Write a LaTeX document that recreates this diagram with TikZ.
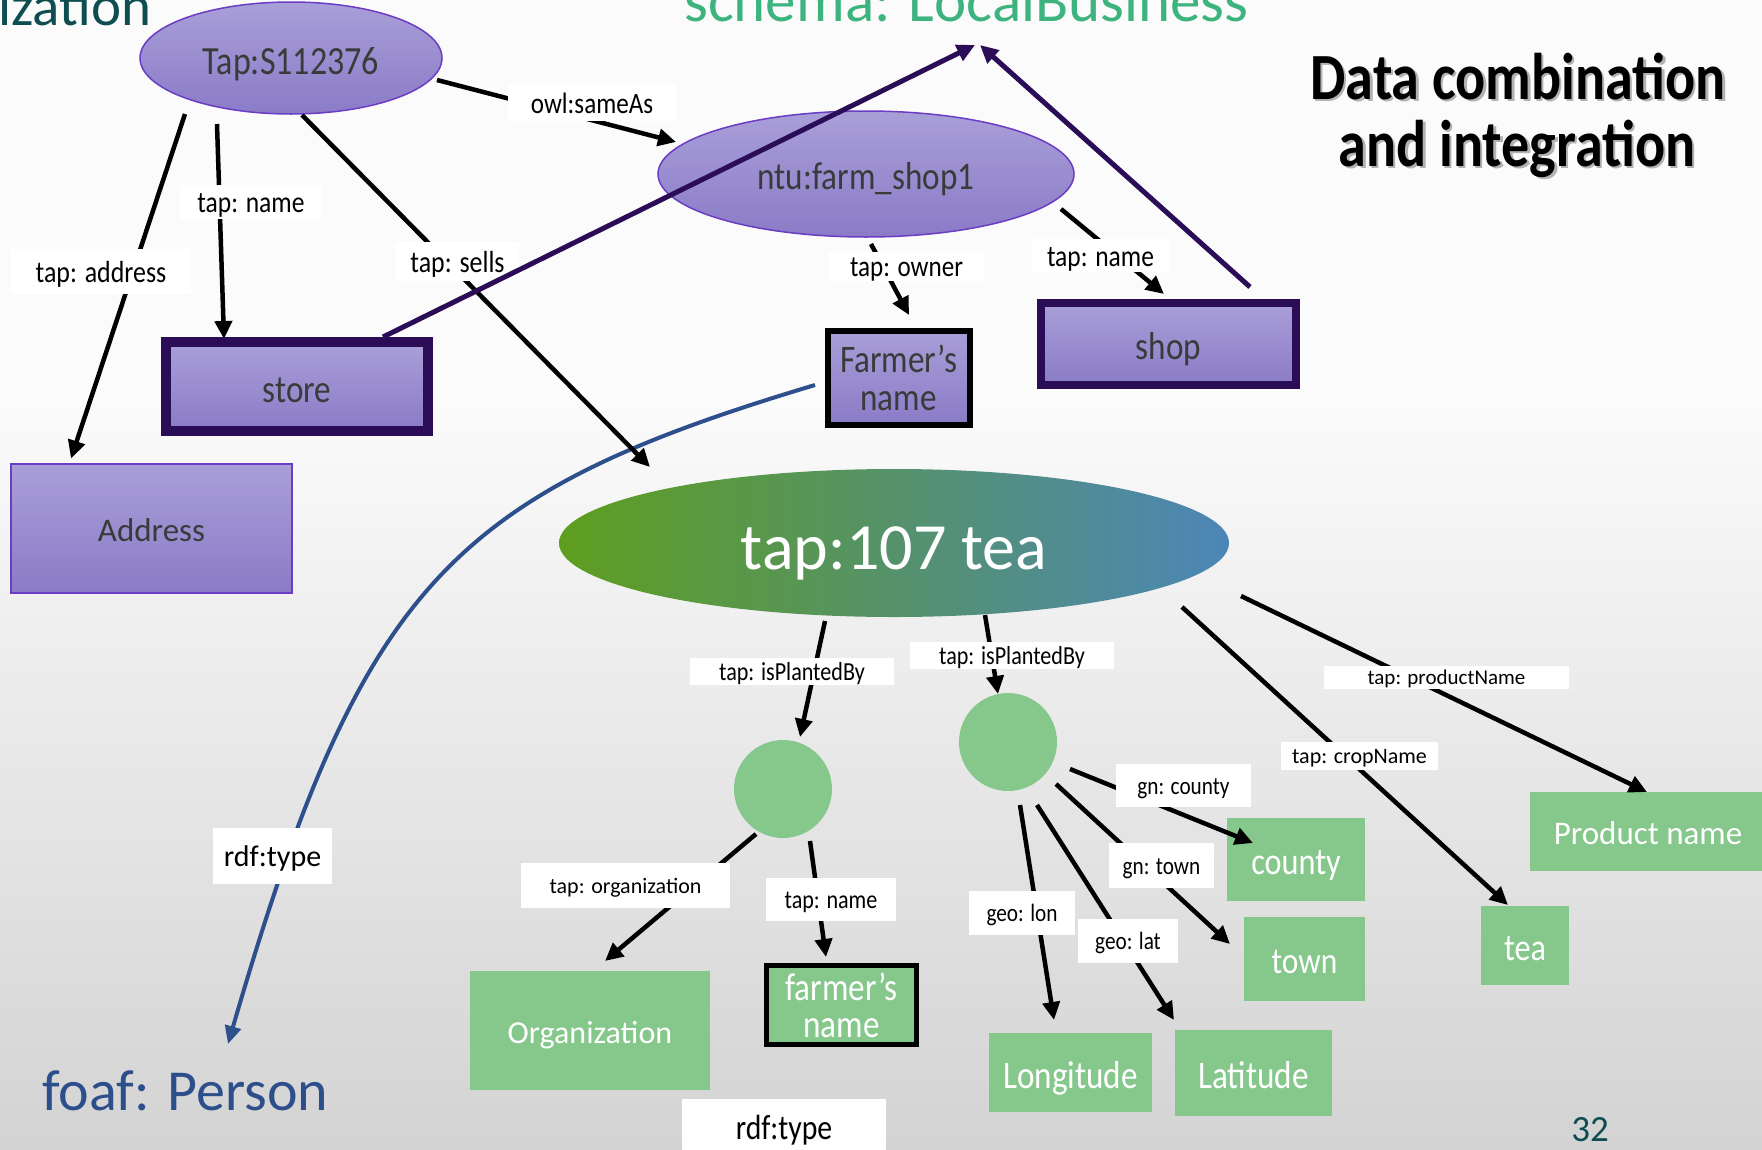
\documentclass[tikz,border=0pt]{standalone}
\usepackage{fontspec}
\setmainfont{Carlito}
\newfontfamily\condfont[FakeStretch=0.85]{Carlito}
\usetikzlibrary{shapes.geometric,arrows.meta,calc}
\newcommand\setfs[1]{\fontsize{#1}{#1}\selectfont}

\definecolor{bgTop}{HTML}{FBFBFB}
\definecolor{bgBot}{HTML}{D3D3D3}
\definecolor{purpleTop}{HTML}{A99FD8}
\definecolor{purpleBot}{HTML}{8A7BC7}
\definecolor{ovalEdge}{HTML}{6B3CC4}
\definecolor{frameDark}{HTML}{2A0C57}
\definecolor{nodeText}{HTML}{3A3A3A}
\definecolor{leaf}{HTML}{86C88C}
\definecolor{teaLeft}{HTML}{5E9E1E}
\definecolor{teaRight}{HTML}{4C86B7}
\definecolor{curveBlue}{HTML}{2D4F8B}
\definecolor{personBlue}{HTML}{2C4F8C}
\definecolor{schemaGreen}{HTML}{3DB37E}
\definecolor{pageTeal}{HTML}{0F4E50}

\tikzset{
  % single-line text: condensed (cfs) or regular (rfs) at a given size,
  % with a fixed text box so the glyphs sit centred like the slide's font
  cfs/.style={font=\condfont\setfs{#1}, text height={0.8*#1pt}, text depth=0pt},
  rfs/.style={font=\setfs{#1}, text height={0.8*#1pt}, text depth=0pt},
  % same for the small property labels
  lcfs/.style={font=\condfont\setfs{#1}, text height={0.7*#1pt}, text depth=0pt},
  lrfs/.style={font=\setfs{#1}, text height={0.7*#1pt}, text depth=0pt},
  purplenode/.style={top color=purpleTop, bottom color=purpleBot, text=nodeText,
    inner sep=0pt, cfs=39},
  oval/.style={purplenode, ellipse, draw=ovalEdge, line width=1.5pt},
  thickbox/.style={purplenode, rectangle, draw=frameDark},
  greenbox/.style={rectangle, fill=leaf, text=white, inner sep=0pt, cfs=39},
  blob/.style={circle, fill=leaf, minimum size=98pt, inner sep=0pt},
  lbl/.style={fill=white, inner sep=0pt, text=black},
  arr/.style={line width=4.5pt, -{Triangle[length=18pt,width=17pt]}},
  link/.style={draw=frameDark, line width=5pt, -{Triangle[length=18pt,width=17pt]}},
  curvy/.style={draw=curveBlue, line width=4pt, -{Triangle[length=18pt,width=16pt]}},
}

\begin{document}
\begin{tikzpicture}[x=1pt, y=-1pt]
\useasboundingbox (0,0) rectangle (1762,1149);
\clip (0,0) rectangle (1762,1149);

% background
\fill[bgTop] (0,0) rectangle (1762,400);
\shade[top color=bgTop, bottom color=bgBot] (0,400) rectangle (1762,1149);

% headings
\node[anchor=base west, inner sep=0pt, text=pageTeal, font=\setfs{57}] (heading) at (-2,25) {ization};
\node[anchor=base west, inner sep=0pt, text=schemaGreen, font=\setfs{61}] (schema) at (684,21) {schema: LocalBusiness};
\coordinate (lbus) at (977,45);

\node[anchor=base, inner sep=0pt, text=gray!60, font=\condfont\bfseries\setfs{66}] (titleAs) at (1520.5,101.5) {Data combination};
\node[anchor=base, inner sep=0pt, text=gray!60, font=\condfont\bfseries\setfs{66}] (titleBs) at (1519.5,168.5) {and integration};
\node[anchor=base, inner sep=0pt, text=black, font=\condfont\bfseries\setfs{66}] (titleA) at (1518,99) {Data combination};
\node[anchor=base, inner sep=0pt, text=black, font=\condfont\bfseries\setfs{66}] (titleB) at (1517,166) {and integration};

% purple resources
\node[oval, minimum width=302pt, minimum height=112pt, cfs=40] (tap) at (291,58) {Tap:S112376};
\node[oval, minimum width=416pt, minimum height=126pt] (ntu) at (866,174) {ntu:farm\_shop1};
\node[thickbox, line width=10pt, minimum width=262pt, minimum height=89pt] (store) at (297,386.5) {store};
\node[purplenode, draw=ovalEdge, line width=1.5pt, minimum width=281pt, minimum height=129pt, rfs=33] (addr) at (151.5,528.5) {Address};
\node[thickbox, draw=black, line width=6pt, minimum width=142pt, minimum height=94pt, align=center, font=\condfont\fontsize{39}{38}\selectfont, text height=, text depth=] (farmer) at (898.5,377.7) {Farmer’s\\name};
\node[thickbox, line width=8pt, minimum width=255pt, minimum height=82pt] (shop) at (1168.5,344) {shop};

% central resource
\node[ellipse, left color=teaLeft, right color=teaRight, minimum width=670pt, minimum height=148pt, inner sep=0pt, text=white, rfs=66] (tea) at (894,543) {tap:107 tea};

% blank nodes
\node[blob] (c1) at (783,789) {};
\node[blob] (c2) at (1008,742) {};

% green literals
\node[greenbox, minimum width=240pt, minimum height=119pt, rfs=32] (org) at (590,1030.5) {Organization};
\node[greenbox, draw=black, line width=5pt, minimum width=150pt, minimum height=79pt, align=center, font=\condfont\fontsize{39}{37}\selectfont, text height=, text depth=] (gfarmer) at (841.5,1005) {farmer’s\\name};
\node[greenbox, minimum width=163pt, minimum height=79pt] (lon) at (1070.5,1072.5) {Longitude};
\node[greenbox, minimum width=157pt, minimum height=86pt] (lat) at (1253.5,1073) {Latitude};
\node[greenbox, minimum width=138pt, minimum height=83pt, cfs=38] (county) at (1296,859.5) {county};
\node[greenbox, minimum width=121pt, minimum height=84pt, cfs=37] (town) at (1304.5,959) {town};
\node[greenbox, minimum width=88pt, minimum height=79pt, cfs=38] (teabox) at (1525,945.5) {tea};
\node[greenbox, minimum width=236pt, minimum height=79pt, rfs=33] (prod) at (1648,831.5) {Product name};

% class labels
\node[anchor=base west, inner sep=0pt, text=personBlue, font=\setfs{58}] (foaf) at (42,1110) {foaf: Person};
\node[anchor=base, inner sep=0pt, text=pageTeal, font=\setfs{37}] (pagenum) at (1590,1141) {32};

% rdf:type curve
\draw[curvy] ($(farmer.center)+(-83.5,7.3)$) .. controls (451,494) and (362,583) .. ($(foaf.base west)+(186,-66)$);

% property arrows
\draw[arr] ($(tap.center)+(-74,66)$) -- ($(store.center)+(-73,-47.5)$);
\draw[arr] ($(tap.center)+(-106,56)$) -- ($(addr.center)+(-80.5,-70)$);
\draw[arr] ($(tap.center)+(11,57)$) -- ($(tea.center)+(-244,-76)$);
\draw[arr] ($(tap.center)+(146,22)$) -- ($(ntu.center)+(-190,-32)$);
\draw[arr] ($(ntu.center)+(5,70)$) -- ($(farmer.center)+(10.5,-62.7)$);
\draw[arr] ($(ntu.center)+(195,35)$) -- ($(shop.center)+(-4.5,-50)$);
\draw[arr] ($(tea.center)+(-69,78)$) -- ($(c1.center)+(17,-52)$);
\draw[arr] ($(tea.center)+(91,72)$) -- ($(c2.center)+(-10,-48)$);
\draw[arr] ($(tea.center)+(288,64)$) -- ($(teabox.center)+(-17,-40.5)$);
\draw[arr] ($(tea.center)+(347,53)$) -- ($(prod.center)+(-1,-39.5)$);
\draw[arr] ($(c1.center)+(-27,45)$) -- ($(org.center)+(15,-69.5)$);
\draw[arr] ($(c1.center)+(27,52)$) -- ($(gfarmer.center)+(-15.5,-48)$);
\draw[arr] ($(c2.center)+(62,27)$) -- ($(county.center)+(-43,-16.5)$);
\draw[arr] ($(c2.center)+(48,42)$) -- ($(town.center)+(-74.5,-15)$);
\draw[arr] ($(c2.center)+(12,63)$) -- ($(lon.center)+(-16.5,-52.5)$);
\draw[arr] ($(c2.center)+(29,63)$) -- ($(lat.center)+(-79.5,-53)$);

% edge labels
\node[lbl, minimum width=142pt, minimum height=34pt, lcfs=30] (l1) at (251,202) {tap: name};
\node[lbl, minimum width=180pt, minimum height=45pt, lcfs=30.5] (l2) at (101,271.5) {tap: address};
\node[lbl, minimum width=123pt, minimum height=39pt, lcfs=30.5] (l3) at (457.5,261.5) {tap: sells};
\node[lbl, minimum width=168pt, minimum height=36pt, lcfs=29.5] (l4) at (592,103) {owl:sameAs};
\node[lbl, minimum width=155pt, minimum height=29pt, lcfs=29.5] (l5) at (906.5,266.5) {tap: owner};
\node[lbl, minimum width=137pt, minimum height=33pt, lcfs=30] (l6) at (1100.5,255.5) {tap: name};
\node[lbl, minimum width=119pt, minimum height=56pt, lrfs=30] (l7) at (272.5,856) {rdf:type};
\node[lbl, minimum width=204pt, minimum height=56pt, lcfs=35] (l8) at (784,1127) {rdf:type};
\node[lbl, minimum width=204pt, minimum height=27pt, lcfs=26] (l9) at (792,671.5) {tap: isPlantedBy};
\node[lbl, minimum width=204pt, minimum height=27pt, lcfs=26] (l10) at (1012,655.5) {tap: isPlantedBy};
\node[lbl, minimum width=157pt, minimum height=28pt, lrfs=22] (l11) at (1359.5,756) {tap: cropName};
\node[lbl, minimum width=245pt, minimum height=23pt, lrfs=21] (l12) at (1446.5,677.5) {tap: productName};
\node[lbl, minimum width=209pt, minimum height=45pt, lrfs=22] (l13) at (625.5,885.5) {tap: organization};
\node[lbl, minimum width=130pt, minimum height=43pt, lcfs=26] (l14) at (831,899.5) {tap: name};
\node[lbl, minimum width=135pt, minimum height=43pt, lcfs=25] (l15) at (1183.5,785.5) {gn: county};
\node[lbl, minimum width=105pt, minimum height=45pt, lcfs=25] (l16) at (1161.5,865.5) {gn: town};
\node[lbl, minimum width=106pt, minimum height=44pt, lcfs=25] (l17) at (1022,913) {geo: lon};
\node[lbl, minimum width=100pt, minimum height=44pt, lcfs=25] (l18) at (1128,941) {geo: lat};

% typing links to schema: LocalBusiness
\draw[link] ($(store.center)+(86,-49.5)$) -- ($(lbus)+(-2,0)$);
\draw[link] ($(shop.center)+(81.5,-57)$) -- ($(lbus)+(3,0)$);
\end{tikzpicture}
\end{document}
